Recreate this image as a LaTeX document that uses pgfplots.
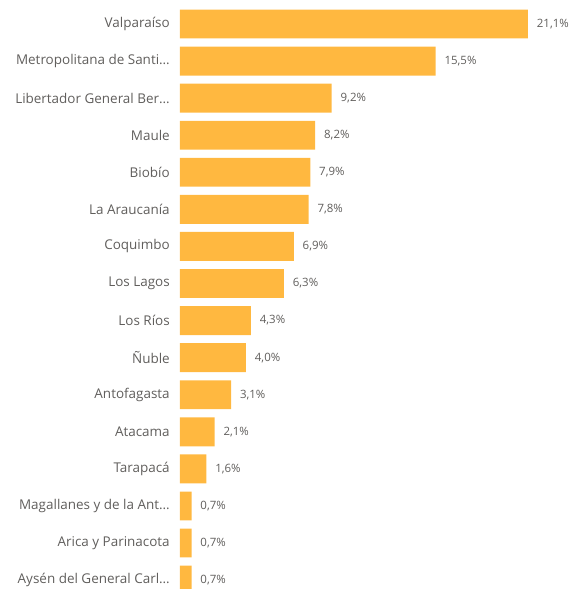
\documentclass[border=0pt]{standalone}
\usepackage{fontspec}
\setmainfont{Open Sans}
\usepackage{pgfplots}
\pgfplotsset{compat=1.18}
\definecolor{barorange}{HTML}{FFB840}
\definecolor{labelgray}{HTML}{605E5C}

\begin{document}
\begin{tikzpicture}[x=1pt,y=1pt]
\begin{axis}[
    name=ax,
    xbar,
    scale only axis,
    width=293.25pt,
    height=441.75pt,
    xmin=0, xmax=23.71,
    ymin=-0.647, ymax=15.24,
    y dir=reverse,
    bar width=0.78,
    hide x axis,
    axis y line*=left,
    y axis line style={draw=none},
    major tick length=0pt,
    ytick={0,...,15},
    yticklabels={Valparaíso, Metropolitana de Santi…, Libertador General Ber…, Maule, Biobío, La Araucanía, Coquimbo, Los Lagos, Los Ríos, Ñuble, Antofagasta, Atacama, Tarapacá, Magallanes y de la Ant…, Arica y Parinacota, Aysén del General Carl…},
    yticklabel style={font=\fontsize{10.1}{12}\selectfont, text=labelgray, inner sep=0pt, xshift=-7.5pt},
    nodes near coords={\pgfmathprintnumber[fixed,fixed zerofill,precision=1,use comma,assume math mode=true]{\pgfplotspointmeta}\%},
    nodes near coords style={font=\fontsize{8.6}{10}\selectfont, text=labelgray, anchor=west, inner sep=0pt, xshift=6.5pt},
    point meta=explicit,
]
\addplot[fill=barorange, draw=none] table[meta=x] {
x y
21.1 0
15.5 1
9.2 2
8.2 3
7.9 4
7.8 5
6.9 6
6.3 7
4.3 8
4.0 9
3.1 10
2.1 11
1.6 12
0.7 13
0.7 14
0.7 15
};
\end{axis}
\pgfresetboundingbox
\path[use as bounding box] ([xshift=-135pt]ax.south west) rectangle (ax.north east);
\end{tikzpicture}
\end{document}
